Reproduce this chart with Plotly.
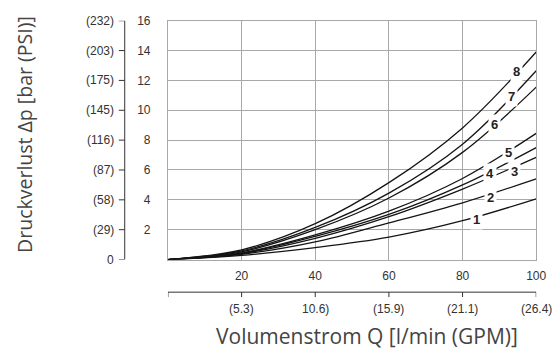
import plotly.graph_objects as go

# ---- data ----
flow = [0, 20, 40, 60, 80, 100]                      # l/min
curve_names = ["1", "2", "3", "4", "5", "6", "7", "8"]
c1 = [0, 0.28, 0.80, 1.50, 2.60, 4.07]
c2 = [0, 0.35, 1.18, 2.45, 3.80, 5.40]
c3 = [0, 0.40, 1.42, 2.87, 4.72, 6.85]
c4 = [0, 0.42, 1.55, 3.02, 5.00, 7.50]
c5 = [0, 0.45, 1.65, 3.24, 5.43, 8.45]
c6 = [0, 0.52, 2.00, 4.12, 7.18, 11.55]
c7 = [0, 0.58, 2.15, 4.45, 7.73, 12.65]
c8 = [0, 0.65, 2.40, 5.15, 8.82, 13.90]
curves = [c1, c2, c3, c4, c5, c6, c7, c8]

bar_ticks = [2, 4, 6, 8, 10, 12, 14, 16]
psi_ticks = [0, 2, 4, 6, 8, 10, 12, 14, 16]
psi_labels = ["0", "(29)", "(58)", "(87)", "(116)", "(145)", "(175)", "(203)", "(232)"]
lpm_ticks = [20, 40, 60, 80, 100]
gpm_ticks = [0, 20, 40, 60, 80, 100]
gpm_labels = ["", "(5.3)", "10.6)", "(15.9)", "(21.1)", "(26.4)"]

# label placement (x, y in data units)
label_x = [83.7, 87.5, 94.2, 87.5, 92.4, 88.6, 93.2, 94.7]
label_y = [2.65, 4.18, 5.87, 5.76, 7.18, 9.04, 10.95, 12.6]

W, H = 558, 349
TICKFONT = dict(family="Liberation Sans Narrow, Liberation Sans, Arial", size=12, color="#333333")
GRID = "#a8a8a8"
AXC = "#333333"

fig = go.Figure()
for name, ys in zip(curve_names, curves):
    fig.add_trace(go.Scatter(x=flow, y=ys, mode="lines", name=name,
                             line=dict(color="#151515", width=1.3, shape="spline", smoothing=1.0),
                             hoverinfo="skip", showlegend=False))

for name, lx, ly in zip(curve_names, label_x, label_y):
    fig.add_annotation(x=lx, y=ly, xref="x", yref="y", text="<b>%s</b>" % name,
                       showarrow=False, bgcolor="white", borderpad=2,
                       font=dict(family="Liberation Sans, Arial", size=13, color="#222222"))

# ---- secondary pressure axis (PSI), drawn on the bar scale ----
psi_x = 127 / W
fig.add_shape(type="line", xref="paper", yref="y", x0=psi_x, x1=psi_x, y0=0, y1=16,
              line=dict(color=AXC, width=1))
for t, lab in zip(psi_ticks, psi_labels):
    fig.add_shape(type="line", xref="paper", yref="y", x0=psi_x - 6 / W, x1=psi_x, y0=t, y1=t,
                  line=dict(color=AXC, width=1))
    fig.add_annotation(x=psi_x - 9 / W, y=t, xref="paper", yref="y", text=lab,
                       showarrow=False, xanchor="right", yanchor="middle", font=TICKFONT)

# ---- secondary flow axis (GPM), drawn on the l/min scale ----
gpm_y = (H - 291) / H
fig.add_shape(type="line", xref="x", yref="paper", x0=0, x1=100, y0=gpm_y, y1=gpm_y,
              line=dict(color=AXC, width=1))
for t, lab in zip(gpm_ticks, gpm_labels):
    fig.add_shape(type="line", xref="x", yref="paper", x0=t, x1=t, y0=gpm_y, y1=gpm_y - 5 / H,
                  line=dict(color=AXC, width=1))
    if lab:
        fig.add_annotation(x=t, y=gpm_y - 8 / H, xref="x", yref="paper", text=lab,
                           showarrow=False, xanchor="center", yanchor="top", font=TICKFONT)

fig.add_annotation(x=374 / W, y=(H - 336) / H, xref="paper", yref="paper",
                   text="Volumenstrom Q [l/min (GPM)]", showarrow=False,
                   font=dict(family="Open Sans, Noto Sans, sans-serif", size=21, color="#444444"),
                   xanchor="center", yanchor="middle")
fig.add_annotation(x=25 / W, y=(H - 130) / H, xref="paper", yref="paper",
                   text="Druckverlust Δp [bar (PSI)]", showarrow=False,
                   font=dict(family="Open Sans, Noto Sans, sans-serif", size=19.5, color="#444444"),
                   textangle=-90, xanchor="center", yanchor="middle")

x_dom = [171 / W, 546 / W]
y_dom = [(H - 257.7) / H, (H - 14) / H]

fig.update_layout(
    width=W, height=H, autosize=False,
    margin=dict(l=0, r=0, t=0, b=0, pad=0),
    paper_bgcolor="white", plot_bgcolor="white",
    xaxis=dict(domain=x_dom, range=[0, 100], tickmode="array", tickvals=lpm_ticks,
               showgrid=True, gridcolor=GRID, gridwidth=1, zeroline=False,
               showline=True, mirror=True, linecolor=GRID, linewidth=1,
               ticks="outside", ticklen=5, tickcolor="rgba(0,0,0,0)", tickfont=TICKFONT),
    yaxis=dict(domain=y_dom, range=[0, 16], tickmode="array", tickvals=bar_ticks,
               showgrid=True, gridcolor=GRID, gridwidth=1, zeroline=False,
               showline=True, mirror=True, linecolor=GRID, linewidth=1,
               ticks="outside", ticklen=14, tickcolor="rgba(0,0,0,0)", tickfont=TICKFONT),
)

fig.write_html("out.html", config={"responsive": False, "displayModeBar": False},
               post_script="document.body.style.margin='0';document.body.style.overflow='hidden';")
